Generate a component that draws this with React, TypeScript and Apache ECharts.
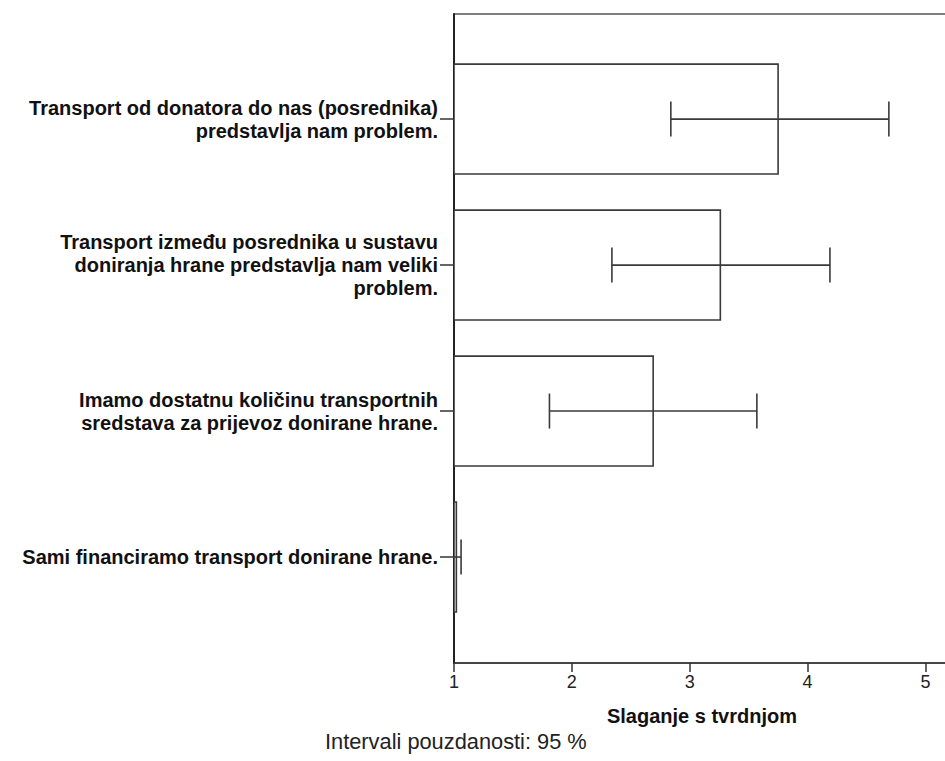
import React, { useEffect, useRef } from "react";
import * as echarts from "echarts";

const categories = [
  "Transport od donatora do nas (posrednika)\npredstavlja nam problem.",
  "Transport između posrednika u sustavu\ndoniranja hrane predstavlja nam veliki\nproblem.",
  "Imamo dostatnu količinu transportnih\nsredstava za prijevoz donirane hrane.",
  "Sami financiramo transport donirane hrane.",
];
const means = [3.75, 3.26, 2.69, 1.02];
const ciLow = [2.84, 2.34, 1.81, 0.98];
const ciHigh = [4.69, 4.19, 3.57, 1.06];
const xTicks = [1, 2, 3, 4, 5];
const xTitle = "Slaganje s tvrdnjom";
const footnote = "Intervali pouzdanosti: 95 %";

const FONT = "'Liberation Sans', Arial, sans-serif";
const X_MAX = 5.2;
const CHART_W = 970;

export default function App() {
  const ref = useRef<HTMLDivElement>(null);
  useEffect(() => {
    if (!ref.current) return;
    const chart = echarts.init(ref.current, null, { renderer: "svg" });
    const data = categories.map((_, i) => [i, means[i], ciLow[i], ciHigh[i]]);
    const lineColor = "#333";
    const gridRight = CHART_W - (454 + (X_MAX - 1) * 117.85);
    chart.setOption({
      animation: false,
      backgroundColor: "#fff",
      textStyle: { fontFamily: FONT },
      title: {
        text: footnote,
        left: 325,
        top: 730,
        padding: 0,
        textStyle: { fontFamily: FONT, fontWeight: "normal", fontSize: 21.8, color: "#222" },
      },
      grid: {
        left: 454,
        right: gridRight,
        top: 14,
        bottom: 98,
        show: true,
        borderColor: "#555",
        borderWidth: 1.5,
        backgroundColor: "transparent",
      },
      xAxis: {
        type: "value",
        min: 1,
        max: X_MAX,
        position: "bottom",
        splitLine: { show: false },
        axisLine: { show: true, onZero: false, lineStyle: { color: lineColor, width: 1.5 } },
        axisTick: { show: true, length: 9, customValues: xTicks, lineStyle: { color: lineColor, width: 1.5 } },
        axisLabel: {
          customValues: xTicks,
          fontFamily: FONT,
          fontSize: 18,
          color: "#222",
          margin: 10,
        },
      },
      yAxis: {
        type: "value",
        inverse: true,
        min: -0.72,
        max: 3.726,
        splitLine: { show: false },
        axisLine: { show: true, onZero: false, lineStyle: { color: "#222", width: 2 } },
        axisTick: { show: true, length: 14, customValues: [0, 1, 2, 3], lineStyle: { color: lineColor, width: 1.5 } },
        axisLabel: {
          customValues: [0, 1, 2, 3],
          formatter: (v: number) => categories[Math.round(v)] ?? "",
          fontFamily: FONT,
          fontWeight: "bold",
          fontSize: 20,
          lineHeight: 23,
          color: "#111",
          align: "right",
          margin: 16,
        },
      },
      graphic: [
        {
          type: "text",
          x: 702,
          y: 716,
          style: {
            text: xTitle,
            fontFamily: FONT,
            fontWeight: "bold",
            fontSize: 20,
            fill: "#111",
            align: "center",
            verticalAlign: "middle",
          },
        },
      ],
      series: [
        {
          type: "custom",
          clip: true,
          encode: { x: [1, 2, 3], y: 0 },
          data,
          renderItem: (params: any, api: any) => {
            const yi = api.value(0);
            const m = api.value(1);
            const lo = api.value(2);
            const hi = api.value(3);
            const p0 = api.coord([1, yi]);
            const p1 = api.coord([m, yi]);
            const h = api.size([0, 0.753])[1];
            const capH = api.size([0, 0.24])[1];
            const pl = api.coord([lo, yi]);
            const ph = api.coord([hi, yi]);
            const stroke = { stroke: "#3a3a3a", lineWidth: 1.6, fill: null };
            return {
              type: "group",
              children: [
                {
                  type: "rect",
                  shape: { x: p0[0], y: p0[1] - h / 2, width: p1[0] - p0[0], height: h },
                  style: { fill: "#fff", stroke: "#3a3a3a", lineWidth: 1.6 },
                },
                {
                  type: "line",
                  shape: { x1: pl[0], y1: pl[1], x2: ph[0], y2: ph[1] },
                  style: stroke,
                },
                {
                  type: "line",
                  shape: { x1: pl[0], y1: pl[1] - capH / 2, x2: pl[0], y2: pl[1] + capH / 2 },
                  style: stroke,
                },
                {
                  type: "line",
                  shape: { x1: ph[0], y1: ph[1] - capH / 2, x2: ph[0], y2: ph[1] + capH / 2 },
                  style: stroke,
                },
              ],
            };
          },
        },
      ],
    });
    return () => chart.dispose();
  }, []);
  return (
    <div
      style={{
        position: "fixed",
        left: 0,
        top: 0,
        width: 945,
        height: 761,
        overflow: "hidden",
        background: "#fff",
      }}
    >
      <div ref={ref} style={{ width: CHART_W, height: 761 }} />
    </div>
  );
}
